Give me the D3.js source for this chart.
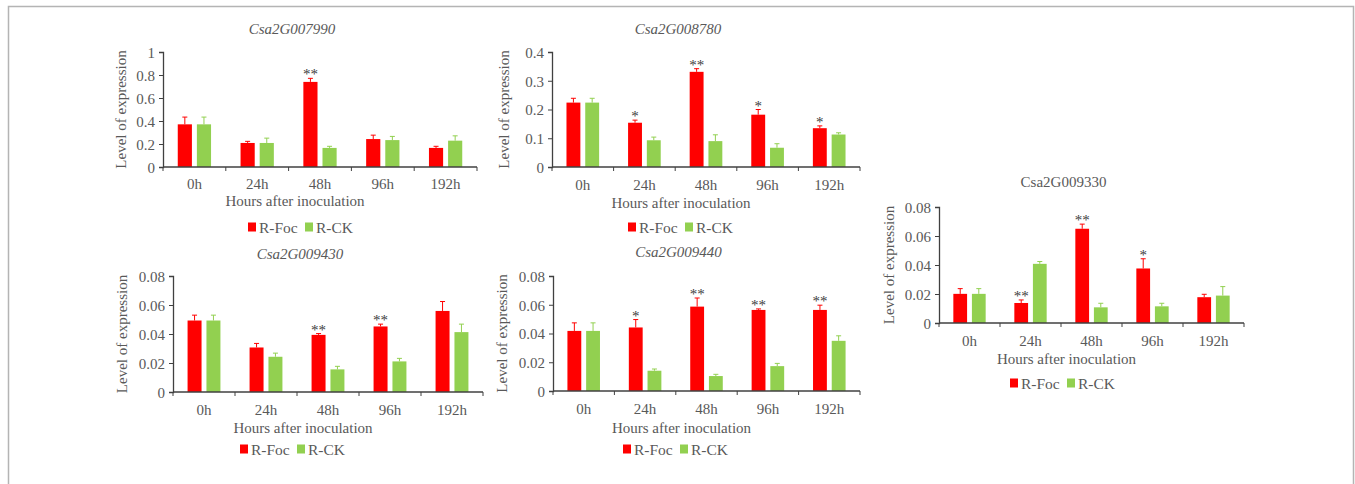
<!DOCTYPE html>
<html>
<head>
<meta charset="utf-8">
<script src="https://cdn.jsdelivr.net/npm/d3@7"></script>
<style>
  body { margin: 0; background: #fff; }
  svg text { font-family: 'Liberation Serif', 'DejaVu Serif', serif; fill: #595959; }
</style>
</head>
<body>
<script>
var width = 1355;
var height = 484;
var fontFam = "'Liberation Serif', 'DejaVu Serif', serif";

// categories and series
var hours = ['0h', '24h', '48h', '96h', '192h'];
var seriesNames = ['R-Foc', 'R-CK'];
var geneNames = ['Csa2G007990', 'Csa2G008780', 'Csa2G009430', 'Csa2G009440', 'Csa2G009330'];

// means and error (sd)
var foc007990 = [0.371, 0.209, 0.740, 0.243, 0.166];
var focErr007990 = [0.063, 0.014, 0.031, 0.034, 0.014];
var ck007990 = [0.371, 0.209, 0.166, 0.234, 0.229];
var ckErr007990 = [0.063, 0.042, 0.014, 0.032, 0.042];
var sig007990 = ['', '', '**', '', ''];

var foc008780 = [0.224, 0.154, 0.331, 0.182, 0.135];
var focErr008780 = [0.015, 0.009, 0.011, 0.018, 0.008];
var ck008780 = [0.224, 0.093, 0.090, 0.067, 0.113];
var ckErr008780 = [0.015, 0.011, 0.022, 0.014, 0.006];
var sig008780 = ['', '*', '**', '*', '*'];

var foc009430 = [0.0493, 0.0307, 0.0394, 0.0452, 0.0559];
var focErr009430 = [0.0037, 0.0028, 0.0009, 0.0016, 0.0065];
var ck009430 = [0.0493, 0.0243, 0.0156, 0.0211, 0.0413];
var ckErr009430 = [0.0037, 0.0025, 0.0021, 0.0021, 0.0055];
var sig009430 = ['', '', '**', '**', ''];

var foc009440 = [0.0418, 0.0442, 0.0587, 0.0564, 0.0564];
var focErr009440 = [0.0056, 0.0055, 0.0060, 0.0007, 0.0033];
var ck009440 = [0.0418, 0.0141, 0.0104, 0.0173, 0.0349];
var ckErr009440 = [0.0056, 0.0012, 0.0012, 0.0019, 0.0035];
var sig009440 = ['', '*', '**', '**', '**'];

var foc009330 = [0.0201, 0.0138, 0.0650, 0.0376, 0.0178];
var focErr009330 = [0.0036, 0.0021, 0.0032, 0.0067, 0.0020];
var ck009330 = [0.0201, 0.0408, 0.0108, 0.0115, 0.0189];
var ckErr009330 = [0.0036, 0.0016, 0.0028, 0.0021, 0.0062];
var sig009330 = ['', '**', '**', '*', ''];

// y axis ticks
var ticks007990 = [0, 0.2, 0.4, 0.6, 0.8, 1];
var ticks008780 = [0, 0.1, 0.2, 0.3, 0.4];
var ticks008 = [0, 0.02, 0.04, 0.06, 0.08];

var colors = ['#ff0000', '#92d050'];

// layout (pixel boxes of each plot area)
var panels = [
  { gene: geneNames[0], italic: true, foc: foc007990, focErr: focErr007990, ck: ck007990, ckErr: ckErr007990, sig: sig007990, ticks: ticks007990,
    x0: 163, x1: 477, y0: 167, y1: 52, titleY: 34, catY: 189, xlabY: 206, ylabX: 126, legY: 227, legX: 248 },
  { gene: geneNames[1], italic: true, foc: foc008780, focErr: focErr008780, ck: ck008780, ckErr: ckErr008780, sig: sig008780, ticks: ticks008780,
    x0: 552, x1: 860, y0: 167, y1: 52, titleY: 34, catY: 190, xlabY: 208, ylabX: 509, legY: 227, legX: 628 },
  { gene: geneNames[2], italic: true, foc: foc009430, focErr: focErr009430, ck: ck009430, ckErr: ckErr009430, sig: sig009430, ticks: ticks008,
    x0: 173, x1: 483, y0: 392, y1: 276, titleY: 259, catY: 415, xlabY: 433, ylabX: 127, legY: 449, legX: 240 },
  { gene: geneNames[3], italic: true, foc: foc009440, focErr: focErr009440, ck: ck009440, ckErr: ckErr009440, sig: sig009440, ticks: ticks008,
    x0: 553, x1: 860, y0: 391, y1: 276, titleY: 257, catY: 414, xlabY: 433, ylabX: 507, legY: 449, legX: 623 },
  { gene: geneNames[4], italic: false, foc: foc009330, focErr: focErr009330, ck: ck009330, ckErr: ckErr009330, sig: sig009330, ticks: ticks008,
    x0: 939, x1: 1244, y0: 323, y1: 207, titleY: 187, catY: 346, xlabY: 364, ylabX: 894, legY: 383, legX: 1010 }
];

var svg = d3.select('body')
            .append('svg')
            .attr('width', width)
            .attr('height', height)
            .attr('font-family', fontFam);

// grey frame around the figure
svg.append('path')
   .attr('d', 'M8.5,' + (height + 5) + 'V6.5H1353.5V' + (height + 5))
   .attr('fill', 'none')
   .attr('stroke', '#b4b4b4')
   .attr('stroke-width', 1.5);

function fmt(d) {
    return String(+d.toFixed(2));
}

panels.forEach(function (p) {
    var g = svg.append('g');
    var yMax = p.ticks[p.ticks.length - 1];

    var xScale = d3.scaleBand()
                   .domain(hours)
                   .range([p.x0, p.x1])
                   .paddingInner(0.47)
                   .paddingOuter(0.235);
    var xInner = d3.scaleBand()
                   .domain(seriesNames)
                   .range([0, xScale.bandwidth()])
                   .paddingInner(0.26);
    var yScale = d3.scaleLinear()
                   .domain([0, yMax])
                   .range([p.y0, p.y1]);

    // bars
    var rows = hours.map(function (h, i) {
        return { h: h, i: i, vals: [
            { s: seriesNames[0], v: p.foc[i], e: p.focErr[i], c: colors[0] },
            { s: seriesNames[1], v: p.ck[i], e: p.ckErr[i], c: colors[1] }
        ] };
    });

    var groups = g.selectAll('.cat')
                  .data(rows)
                  .enter()
                  .append('g')
                  .attr('class', 'cat')
                  .attr('transform', function (d) { return 'translate(' + xScale(d.h) + ',0)'; });

    groups.selectAll('rect')
          .data(function (d) { return d.vals; })
          .enter()
          .append('rect')
          .attr('x', function (d) { return xInner(d.s); })
          .attr('y', function (d) { return yScale(d.v); })
          .attr('width', xInner.bandwidth())
          .attr('height', function (d) { return yScale(0) - yScale(d.v); })
          .attr('fill', function (d) { return d.c; });

    // error bars (upper only)
    var eb = groups.selectAll('.err')
                   .data(function (d) { return d.vals; })
                   .enter()
                   .append('g')
                   .attr('class', 'err')
                   .attr('stroke', function (d) { return d.c; })
                   .attr('stroke-width', 1);
    eb.append('line')
      .attr('x1', function (d) { return xInner(d.s) + xInner.bandwidth() / 2; })
      .attr('x2', function (d) { return xInner(d.s) + xInner.bandwidth() / 2; })
      .attr('y1', function (d) { return yScale(d.v); })
      .attr('y2', function (d) { return yScale(d.v + d.e); });
    eb.append('line')
      .attr('x1', function (d) { return xInner(d.s) + xInner.bandwidth() / 2 - 2.5; })
      .attr('x2', function (d) { return xInner(d.s) + xInner.bandwidth() / 2 + 2.5; })
      .attr('y1', function (d) { return yScale(d.v + d.e); })
      .attr('y2', function (d) { return yScale(d.v + d.e); });

    // significance stars
    groups.append('text')
          .attr('x', xInner(seriesNames[0]) + xInner.bandwidth() / 2)
          .attr('y', function (d) { return yScale(p.foc[d.i] + p.focErr[d.i]) + 1; })
          .attr('text-anchor', 'middle')
          .style('font-size', '15px')
          .style('fill', '#404040')
          .text(function (d) { return p.sig[d.i]; });

    // y axis
    var yAxis = d3.axisLeft(yScale)
                  .tickValues(p.ticks)
                  .tickFormat(fmt)
                  .tickSize(4)
                  .tickPadding(4);
    var ya = g.append('g')
              .attr('transform', 'translate(' + p.x0 + ',0)')
              .call(yAxis)
              .attr('font-family', fontFam);
    ya.selectAll('text').style('font-size', '15px').attr('dy', '0.35em');
    ya.select('.domain').attr('stroke', '#404040').attr('stroke-width', 1.3);
    ya.selectAll('.tick line').attr('stroke', '#404040');

    // x axis: line with ticks at category boundaries
    var step = xScale.step();
    g.append('line')
     .attr('x1', p.x0).attr('x2', p.x1)
     .attr('y1', p.y0).attr('y2', p.y0)
     .attr('stroke', '#404040').attr('stroke-width', 1.3);
    g.selectAll('.xtick')
     .data(d3.range(hours.length + 1))
     .enter()
     .append('line')
     .attr('class', 'xtick')
     .attr('x1', function (i) { return p.x0 + i * step; })
     .attr('x2', function (i) { return p.x0 + i * step; })
     .attr('y1', p.y0).attr('y2', p.y0 + 4)
     .attr('stroke', '#404040');

    g.selectAll('.xlab')
     .data(hours)
     .enter()
     .append('text')
     .attr('class', 'xlab')
     .attr('x', function (d) { return xScale(d) + xScale.bandwidth() / 2; })
     .attr('y', p.catY)
     .attr('text-anchor', 'middle')
     .style('font-size', '15px')
     .text(function (d) { return d; });

    var midX = (p.x0 + p.x1) / 2;

    g.append('text')
     .attr('x', midX - 25)
     .attr('y', p.xlabY)
     .attr('text-anchor', 'middle')
     .style('font-size', '15px')
     .text('Hours after inoculation');

    g.append('text')
     .attr('transform', 'translate(' + p.ylabX + ',' + (p.y0 + p.y1) / 2 + ') rotate(-90)')
     .attr('text-anchor', 'middle')
     .style('font-size', '15px')
     .text('Level of expression');

    g.append('text')
     .attr('x', midX - 28)
     .attr('y', p.titleY)
     .attr('text-anchor', 'middle')
     .style('font-size', '15px')
     .style('font-style', p.italic ? 'italic' : 'normal')
     .text(p.gene);

    // legend
    var leg = g.append('g').attr('transform', 'translate(' + p.legX + ',' + p.legY + ')');
    var legOffsets = [0, 57];
    seriesNames.forEach(function (s, i) {
        leg.append('rect')
           .attr('x', legOffsets[i]).attr('y', -4.5)
           .attr('width', 8).attr('height', 9)
           .attr('fill', colors[i]);
        leg.append('text')
           .attr('x', legOffsets[i] + 11).attr('y', 5.5)
           .style('font-size', '15.5px')
           .text(s);
    });
});
</script>
</body>
</html>
